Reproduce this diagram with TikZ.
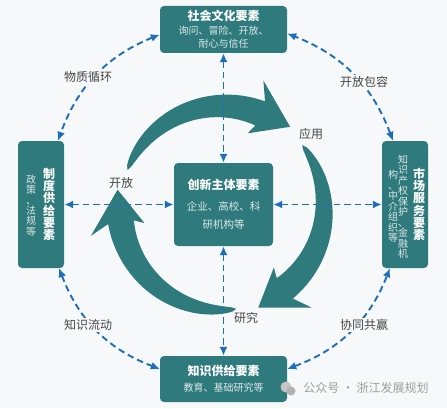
\documentclass[tikz,border=0pt]{standalone}
\usepackage{fontspec}
\setmainfont{Noto Sans CJK SC}
\usetikzlibrary{arrows.meta,positioning,calc}
\definecolor{boxteal}{RGB}{46,122,124}
\definecolor{linkblue}{RGB}{30,110,190}
\definecolor{paper}{RGB}{246,248,250}
\definecolor{labelgray}{RGB}{70,70,70}
\definecolor{subwhite}{RGB}{222,232,232}

\begin{document}
\begin{tikzpicture}[x=1pt, y=1pt,
    elem/.style={fill=boxteal, rounded corners=4pt, text=white, align=center, inner sep=0pt},
    vcol/.style={text=white, align=center, inner sep=0pt},
    link/.style={linkblue, line width=1.9pt, dash pattern=on 6.5pt off 4pt,
      {Latex[length=9pt,width=8pt]}-{Latex[length=9pt,width=8pt]}},
    flow/.style={fill=paper, text=labelgray, inner sep=1.5pt, font=\fontsize{12}{12}\selectfont},
    phase/.style={text=labelgray, inner sep=1pt, font=\fontsize{12}{12}\selectfont}]
    % page
    \useasboundingbox (0,0) rectangle (447,408);
    \fill[paper] (0,0) rectangle (447,408);
    % three big cycle arrows
    \begin{scope}[shift={(222,200)}]
    \foreach \a in {158,38,-82} {
        \fill[boxteal] plot[domain=0:1, samples=40] ({\a-90*\x}:{102+13*sqrt(abs(\x))})
            -- ({\a-86}:134) -- ({\a-108}:106) -- ({\a-87}:79)
            -- plot[domain=1:0, samples=40] ({\a-90*\x}:{102-13*sqrt(abs(\x))}) -- cycle;
    }
    \end{scope}
    % element boxes
    \node[elem, minimum width=127pt, minimum height=47pt, font=\fontsize{10}{13.5}\selectfont] (soc) at (223.5,378.5)
        {{\fontsize{12}{13.5}\selectfont\bfseries 社会文化要素}\\ \textcolor{subwhite}{询问、冒险、开放、}\\ \textcolor{subwhite}{耐心与信任}};
    \node[elem, minimum width=99pt, minimum height=83pt, font=\fontsize{10.5}{18}\selectfont] (core) at (223.5,203.5)
        {{\fontsize{12}{18}\selectfont\bfseries 创新主体要素}\\[3pt] \textcolor{subwhite}{企业、高校、科}\\ \textcolor{subwhite}{研机构等}};
    \node[elem, minimum width=127pt, minimum height=46pt, font=\fontsize{10}{16}\selectfont] (know) at (223.5,29)
        {{\fontsize{12}{16}\selectfont\bfseries 知识供给要素}\\ \textcolor{subwhite}{教育、基础研究等}};
    \node[elem, minimum width=46pt, minimum height=127pt] (inst) at (41,203.5) {};
    \node[elem, minimum width=46pt, minimum height=127pt] (mkt) at (405,203.5) {};
    % vertical columns
    \node[vcol, font=\fontsize{12}{12.3}\selectfont\bfseries] (instT) at ([xshift=8pt]inst.center) {制\\度\\供\\给\\要\\素};
    \node[vcol, text=subwhite, font=\fontsize{10}{10.3}\selectfont] (instS) at ([xshift=-10pt,yshift=-1pt]inst.center) {政\\策\\、\\法\\规\\等};
    \node[vcol, font=\fontsize{12}{12.3}\selectfont\bfseries] (mktT) at ([xshift=14pt]mkt.center) {市\\场\\服\\务\\要\\素};
    \node[vcol, text=subwhite, font=\fontsize{10}{10.5}\selectfont] (mktA) at ([xshift=-2pt,yshift=-2pt]mkt.center) {知\\识\\产\\权\\保\\护\\、\\金\\融\\机};
    \node[vcol, text=subwhite, font=\fontsize{10}{10.5}\selectfont] (mktB) at ([xshift=-12pt,yshift=-2pt]mkt.center) {构\\、\\中\\介\\组\\织\\等};
    % dashed links
    \draw[link] (soc) -- (core);
    \draw[link] (core) -- (know);
    \draw[link] (inst) -- (core);
    \draw[link] (core) -- (mkt);
    \draw[link] ([yshift=-5pt]soc.west) to[bend right=24] ([xshift=17pt]inst.north);
    \draw[link] ([xshift=18pt]inst.south) to[bend right=24] ([yshift=10pt]know.west);
    \draw[link] ([yshift=10pt]know.east) to[bend right=24] ([xshift=-15pt]mkt.south);
    \draw[link] ([xshift=-12pt]mkt.north) to[bend right=24] ([yshift=-4pt]soc.east);
    % link labels
    \node[flow] (matL) at (88,331) {物质循环};
    \node[flow] (openL) at (364,326) {开放包容};
    \node[flow] (knowL) at (88,83) {知识流动};
    \node[flow] (winL) at (364,83) {协同共赢};
    % cycle labels
    \node[phase] (useL) at (311,274) {应用};
    \node[phase] (opnL) at (121,225) {开放};
    \node[phase] (resL) at (246,90) {研究};
    % watermark
    \fill[gray!45] (286,21) circle (5.5);
    \fill[gray!60] (291,17) circle (4.5);
    \node[text=gray!75, inner sep=0pt, font=\fontsize{12}{12}\selectfont] (mark) at (366,20) {公众号 · 浙江发展规划};
\end{tikzpicture}
\end{document}
